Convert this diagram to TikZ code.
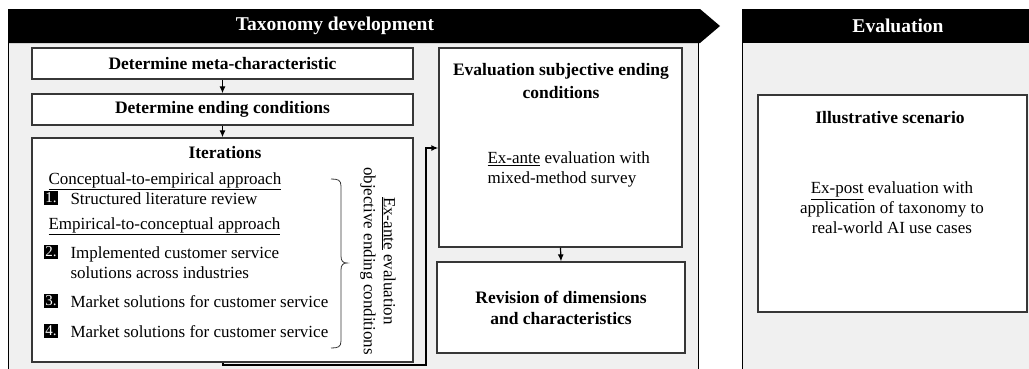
\documentclass[tikz,border=0pt]{standalone}
\usepackage{fontspec}
\setmainfont{Liberation Serif}
\usetikzlibrary{arrows.meta}
\definecolor{panelgray}{RGB}{240,240,240}
\definecolor{boxline}{RGB}{55,55,55}
\begin{document}
\begin{tikzpicture}[x=1pt,y=-1pt,
  panel/.style={draw=black, fill=panelgray, line width=1pt},
  box/.style={draw=boxline, fill=white, line width=1.3pt, inner sep=0pt},
  hdr/.style={font=\bfseries\fontsize{19.5}{23}\selectfont, text=white},
  ttl/.style={font=\bfseries\fontsize{17.5}{23}\selectfont, align=center},
  body/.style={font=\fontsize{17}{21}\selectfont},
  num/.style={fill=black, text=white, inner sep=0pt, minimum width=14pt,
              minimum height=14pt, font=\fontsize{15}{15}\selectfont},
  arr/.style={line width=1.2pt, -{Latex[length=7pt,width=6pt]}},
  conn/.style={line width=2pt, -{Latex[length=7pt,width=6pt]}}]
\useasboundingbox (0,0) rectangle (1029,368);
\clip (0,0) rectangle (1029,368);
\fill[white] (0,0) rectangle (1029,368);

% phase panels
\draw[panel] (8,9) rectangle (698,380);
\draw[panel] (742,9) rectangle (1040,380);
\fill[black] (8,9) -- (700,9) -- (720,26) -- (700,43) -- (8,43) -- cycle;
\fill[black] (742,9) rectangle (1040,43);
\node[hdr] (taxhdr) at (335,26) {Taxonomy development};
\node[hdr] (evalhdr) at (898,26) {Evaluation};

% taxonomy development steps
\node[box, minimum width=381pt, minimum height=31pt] (meta) at (222.5,63.5) {};
\node[ttl] (metat) at (meta.center) {Determine meta-characteristic};
\node[box, minimum width=381pt, minimum height=31pt] (endc) at (222.5,109.5) {};
\node[ttl] (endct) at (endc.center) {Determine ending conditions};
\node[box, minimum width=381pt, minimum height=224pt] (iter) at (222.5,250) {};
\node[box, minimum width=243pt, minimum height=199pt] (evs) at (560.5,147.5) {};
\node[box, minimum width=248pt, minimum height=91pt] (rev) at (561,307.5) {};

% iterations content
\node[ttl] (itert) at (225,153) {Iterations};
\node[body, anchor=base west] (ce) at (45,184) {\underline{Conceptual-to-empirical approach}};
\node[num] (n1) at (51,198) {1.};
\node[body, anchor=base west] (s1) at (67,204) {Structured literature review};
\node[body, anchor=base west] (ec) at (45,229) {\underline{Empirical-to-conceptual approach}};
\node[num] (n2) at (51,252) {2.};
\node[body, anchor=base west] (s2) at (67,258) {Implemented customer service};
\node[body, anchor=base west] (s2b) at (67,278) {solutions across industries};
\node[num] (n3) at (51,301) {3.};
\node[body, anchor=base west] (s3) at (67,307) {Market solutions for customer service};
\node[num] (n4) at (51,331) {4.};
\node[body, anchor=base west] (s4) at (67,337) {Market solutions for customer service};
% brace grouping the four sources
\draw[boxline, line width=0.8pt]
  (331,179) .. controls (338,179) and (341,180) .. (341,186) -- (341,256)
  .. controls (341,261) and (343,263) .. (347,263)
  .. controls (343,263) and (341,265) .. (341,270) -- (341,341)
  .. controls (341,347) and (338,348) .. (331,348);
\node[body, rotate=-90, align=center, font=\fontsize{17}{20}\selectfont] (obj) at (378,261)
  {\underline{Ex-ante} evaluation\\objective ending conditions};

% evaluation of subjective ending conditions and revision
\node[ttl] (evst) at (561,81.5) {Evaluation subjective ending\\conditions};
\node[body, anchor=west, align=left, font=\fontsize{17}{19.5}\selectfont] (evsb) at (484,169.5)
  {\underline{Ex-ante} evaluation with\\mixed-method survey};
\node[ttl, font=\bfseries\fontsize{17.5}{21}\selectfont] (revt) at (rev.center)
  {Revision of dimensions\\and characteristics};

% evaluation phase
\node[box, minimum width=269pt, minimum height=217pt] (ill) at (892.5,203.5) {};
\node[ttl] (illt) at (890,118) {Illustrative scenario};
\node[body, align=center, font=\fontsize{17}{20}\selectfont] (illb) at (892,208)
  {\underline{Ex-post} evaluation with\\application of taxonomy to\\real-world AI use cases};

% connectors
\draw[arr] (meta.south) -- (endc.north);
\draw[arr] (endc.south) -- (iter.north);
\draw[arr] (evs.south) -- (rev.north);
\coordinate (c1) at (426,365);
\coordinate (c2) at (426,148);
\draw[conn] (iter.south) -- (iter.south |- c1) -- (c1) -- (c2) -- (evs.west |- c2);
\end{tikzpicture}
\end{document}
